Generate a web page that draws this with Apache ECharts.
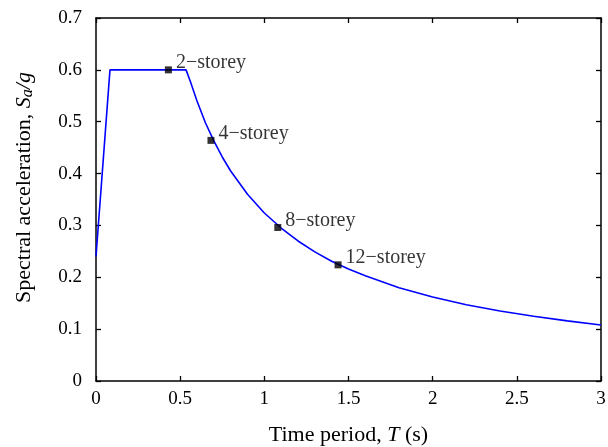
<!DOCTYPE html>
<html>
<head>
<meta charset="utf-8">
<script src="https://cdn.jsdelivr.net/npm/echarts@6/dist/echarts.min.js"></script>
<style>
  html, body { margin: 0; padding: 0; background: #fff; }
  #chart { width: 608px; height: 447px; }
</style>
</head>
<body>
<div id="chart"></div>
<script>
// spectrum curve: [T (s), Sa/g]
var curveT = [0, 0.083, 0.535, 0.56, 0.6, 0.65, 0.7, 0.75, 0.8, 0.9, 1.0, 1.1, 1.2, 1.3, 1.4, 1.5, 1.6, 1.8, 2.0, 2.2, 2.4, 2.6, 2.8, 3.0];
var curveSa = [0.24, 0.6, 0.6, 0.578, 0.54, 0.498, 0.463, 0.432, 0.405, 0.36, 0.324, 0.295, 0.27, 0.249, 0.231, 0.216, 0.203, 0.18, 0.162, 0.147, 0.135, 0.125, 0.116, 0.108];

// building periods marked on the curve
var buildings = ["2\u2212storey", "4\u2212storey", "8\u2212storey", "12\u2212storey"];
var buildingT = [0.43, 0.683, 1.08, 1.438];
var buildingSa = [0.6, 0.464, 0.296, 0.224];

var font = "Liberation Serif";

var curve = curveT.map(function (t, i) { return [t, curveSa[i]]; });
var points = buildingT.map(function (t, i) { return { value: [t, buildingSa[i]], name: buildings[i] }; });

var chart = echarts.init(document.getElementById("chart"));

function ticks() {
  return { show: true, inside: true, length: 5, lineStyle: { color: "#000", width: 1.3 } };
}
function frame() {
  return { show: true, onZero: false, lineStyle: { color: "#000", width: 1.5 } };
}

chart.setOption({
  animation: false,
  grid: { left: 96, right: 7, top: 18, bottom: 66, containLabel: false, outerBoundsMode: "none" },
  xAxis: [
    {
      type: "value",
      min: 0,
      max: 3,
      interval: 0.5,
      name: "{t|Time period, }{i|T}{t| (s)}",
      nameLocation: "middle",
      nameGap: 43,
      nameTextStyle: {
        rich: {
          t: { fontFamily: font, fontSize: 22, color: "#000" },
          i: { fontFamily: font, fontSize: 22, fontStyle: "italic", color: "#000" }
        }
      },
      axisLine: frame(),
      axisTick: ticks(),
      splitLine: { show: false },
      axisLabel: {
        fontFamily: font, fontSize: 19, color: "#000", margin: 9,
        formatter: function (v) { return String(v); }
      }
    },
    {
      type: "value",
      position: "top",
      min: 0,
      max: 3,
      interval: 0.5,
      axisLine: frame(),
      axisTick: ticks(),
      axisLabel: { show: false },
      splitLine: { show: false }
    }
  ],
  yAxis: [
    {
      type: "value",
      min: 0,
      max: 0.7,
      interval: 0.1,
      name: "{sp|\u00a0}{t|Spectral acceleration, }{i|S}{s|a}{i|/g}",
      nameLocation: "middle",
      nameGap: 60,
      nameTextStyle: {
        rich: {
          sp: { width: 24, fontSize: 22 },
          t: { fontFamily: font, fontSize: 22, color: "#000" },
          i: { fontFamily: font, fontSize: 22, fontStyle: "italic", color: "#000" },
          s: { fontFamily: font, fontSize: 16, fontStyle: "italic", color: "#000", padding: [7, 0, 0, 0] }
        }
      },
      axisLine: frame(),
      axisTick: ticks(),
      splitLine: { show: false },
      axisLabel: {
        fontFamily: font, fontSize: 19, color: "#000", margin: 14,
        formatter: function (v) { return v === 0 ? "0" : v.toFixed(1); }
      }
    },
    {
      type: "value",
      position: "right",
      min: 0,
      max: 0.7,
      interval: 0.1,
      axisLine: frame(),
      axisTick: ticks(),
      axisLabel: { show: false },
      splitLine: { show: false }
    }
  ],
  series: [
    {
      type: "line",
      data: curve,
      symbol: "none",
      lineStyle: { color: "#0000ff", width: 1.6 },
      z: 2
    },
    {
      type: "scatter",
      data: points,
      symbol: "rect",
      symbolSize: 7,
      itemStyle: { color: "#000" },
      label: {
        show: true,
        position: "right",
        distance: 4,
        offset: [0, -7],
        formatter: "{b}",
        fontFamily: font,
        fontSize: 20,
        color: "#000"
      },
      z: 3
    }
  ]
});
</script>
</body>
</html>
